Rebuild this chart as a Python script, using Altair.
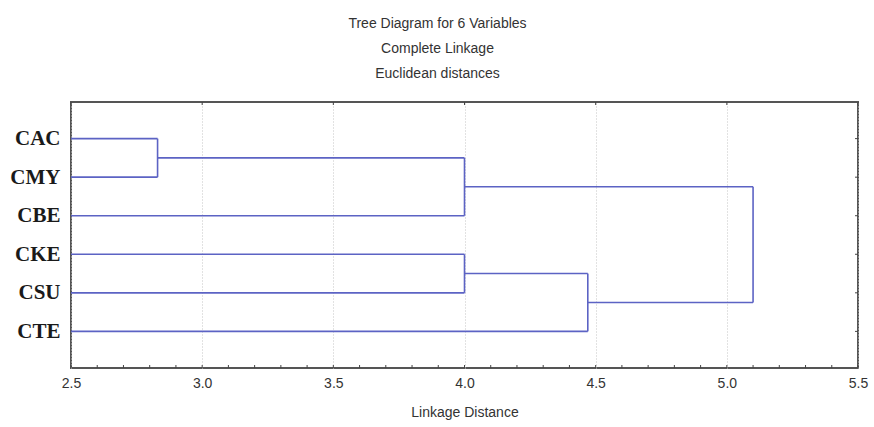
import altair as alt
import pandas as pd

# ---- data ----
leaves = ["CAC", "CMY", "CBE", "CKE", "CSU", "CTE"]
# merges: (cluster a, cluster b, linkage distance); new clusters numbered 6, 7, ...
merge_a = [0, 6, 3, 8, 7]
merge_b = [1, 2, 4, 5, 9]
merge_h = [2.83, 4.00, 4.00, 4.47, 5.10]

x_ticks = [2.5, 3.0, 3.5, 4.0, 4.5, 5.0, 5.5]
x_minor = [round(2.5 + 0.1 * i, 1) for i in range(31)]
x_min, x_max = 2.5, 5.5

# ---- build dendrogram segments ----
pos = {i: (x_min, i + 1) for i in range(len(leaves))}
segs = []
for k, (a, b, h) in enumerate(zip(merge_a, merge_b, merge_h)):
    xa, ya = pos[a]
    xb, yb = pos[b]
    segs.append(dict(x=xa, x2=h, y=ya, y2=ya))
    segs.append(dict(x=xb, x2=h, y=yb, y2=yb))
    segs.append(dict(x=h, x2=h, y=ya, y2=yb))
    pos[len(leaves) + k] = (h, (ya + yb) / 2)
seg_df = pd.DataFrame(segs)

W, H = 787, 266
y_dom = [0.05, 6.95]

label_expr = " ".join(
    f"datum.value == {i + 1} ? '{n}' :" for i, n in enumerate(leaves)
) + " ''"

xscale = alt.Scale(domain=[x_min, x_max], nice=False, zero=False)
yscale = alt.Scale(domain=y_dom, reverse=True, nice=False, zero=False)

line_color = "#5c63c4"

dendro = alt.Chart(seg_df).mark_rule(color=line_color, strokeWidth=1.6).encode(
    x=alt.X("x:Q", scale=xscale,
            axis=alt.Axis(values=x_ticks, format=".1f", title="Linkage Distance",
                          grid=True, gridDash=[1, 2], gridColor="#c4c4c4",
                          gridWidth=1, domain=False, ticks=False,
                          labelFont="Liberation Sans", labelFontSize=14,
                          labelColor="#333333", labelPadding=8,
                          titleFont="Liberation Sans", titleFontSize=14,
                          titleFontWeight="normal", titleColor="#333333",
                          titlePadding=15, labelFlush=False)),
    x2="x2:Q",
    y=alt.Y("y:Q", scale=yscale,
            axis=alt.Axis(values=list(range(1, len(leaves) + 1)),
                          labelExpr=label_expr, title=None, grid=False,
                          domain=False, ticks=False,
                          labelFont="Liberation Serif", labelFontSize=21,
                          labelFontWeight="bold", labelColor="#1a1a1a",
                          labelPadding=11)),
    y2="y2:Q",
)

tick_color = "#444444"
bottom_ticks = alt.Chart(pd.DataFrame({"t": x_minor})).mark_rule(
    color=tick_color, strokeWidth=1
).encode(
    x=alt.X("t:Q", scale=xscale),
    y=alt.value(H),
    y2=alt.value(H - 3),
)
top_ticks = alt.Chart(pd.DataFrame({"t": x_ticks})).mark_rule(
    color=tick_color, strokeWidth=1
).encode(
    x=alt.X("t:Q", scale=xscale),
    y=alt.value(0),
    y2=alt.value(3),
)
right_ticks = alt.Chart(pd.DataFrame({"p": list(range(1, len(leaves) + 1))})).mark_rule(
    color=tick_color, strokeWidth=1
).encode(
    y=alt.Y("p:Q", scale=yscale),
    x=alt.value(W),
    x2=alt.value(W - 3),
)

chart = alt.layer(dendro, bottom_ticks, top_ticks, right_ticks).properties(
    width=W,
    height=H,
    title=alt.TitleParams(
        text=["Tree Diagram for 6 Variables", "Complete Linkage", "Euclidean distances"],
        font="Liberation Sans", fontSize=14, fontWeight="normal",
        color="#333333", lineHeight=25, anchor="middle", dx=-27, offset=21,
    ),
    autosize=alt.AutoSizeParams(type="none"),
    padding={"left": 71, "top": 102, "right": 16, "bottom": 59},
    background="white",
).configure_view(stroke="#555555", strokeWidth=2)

chart.save("out.html", embed_options={"renderer": "svg", "actions": False})
